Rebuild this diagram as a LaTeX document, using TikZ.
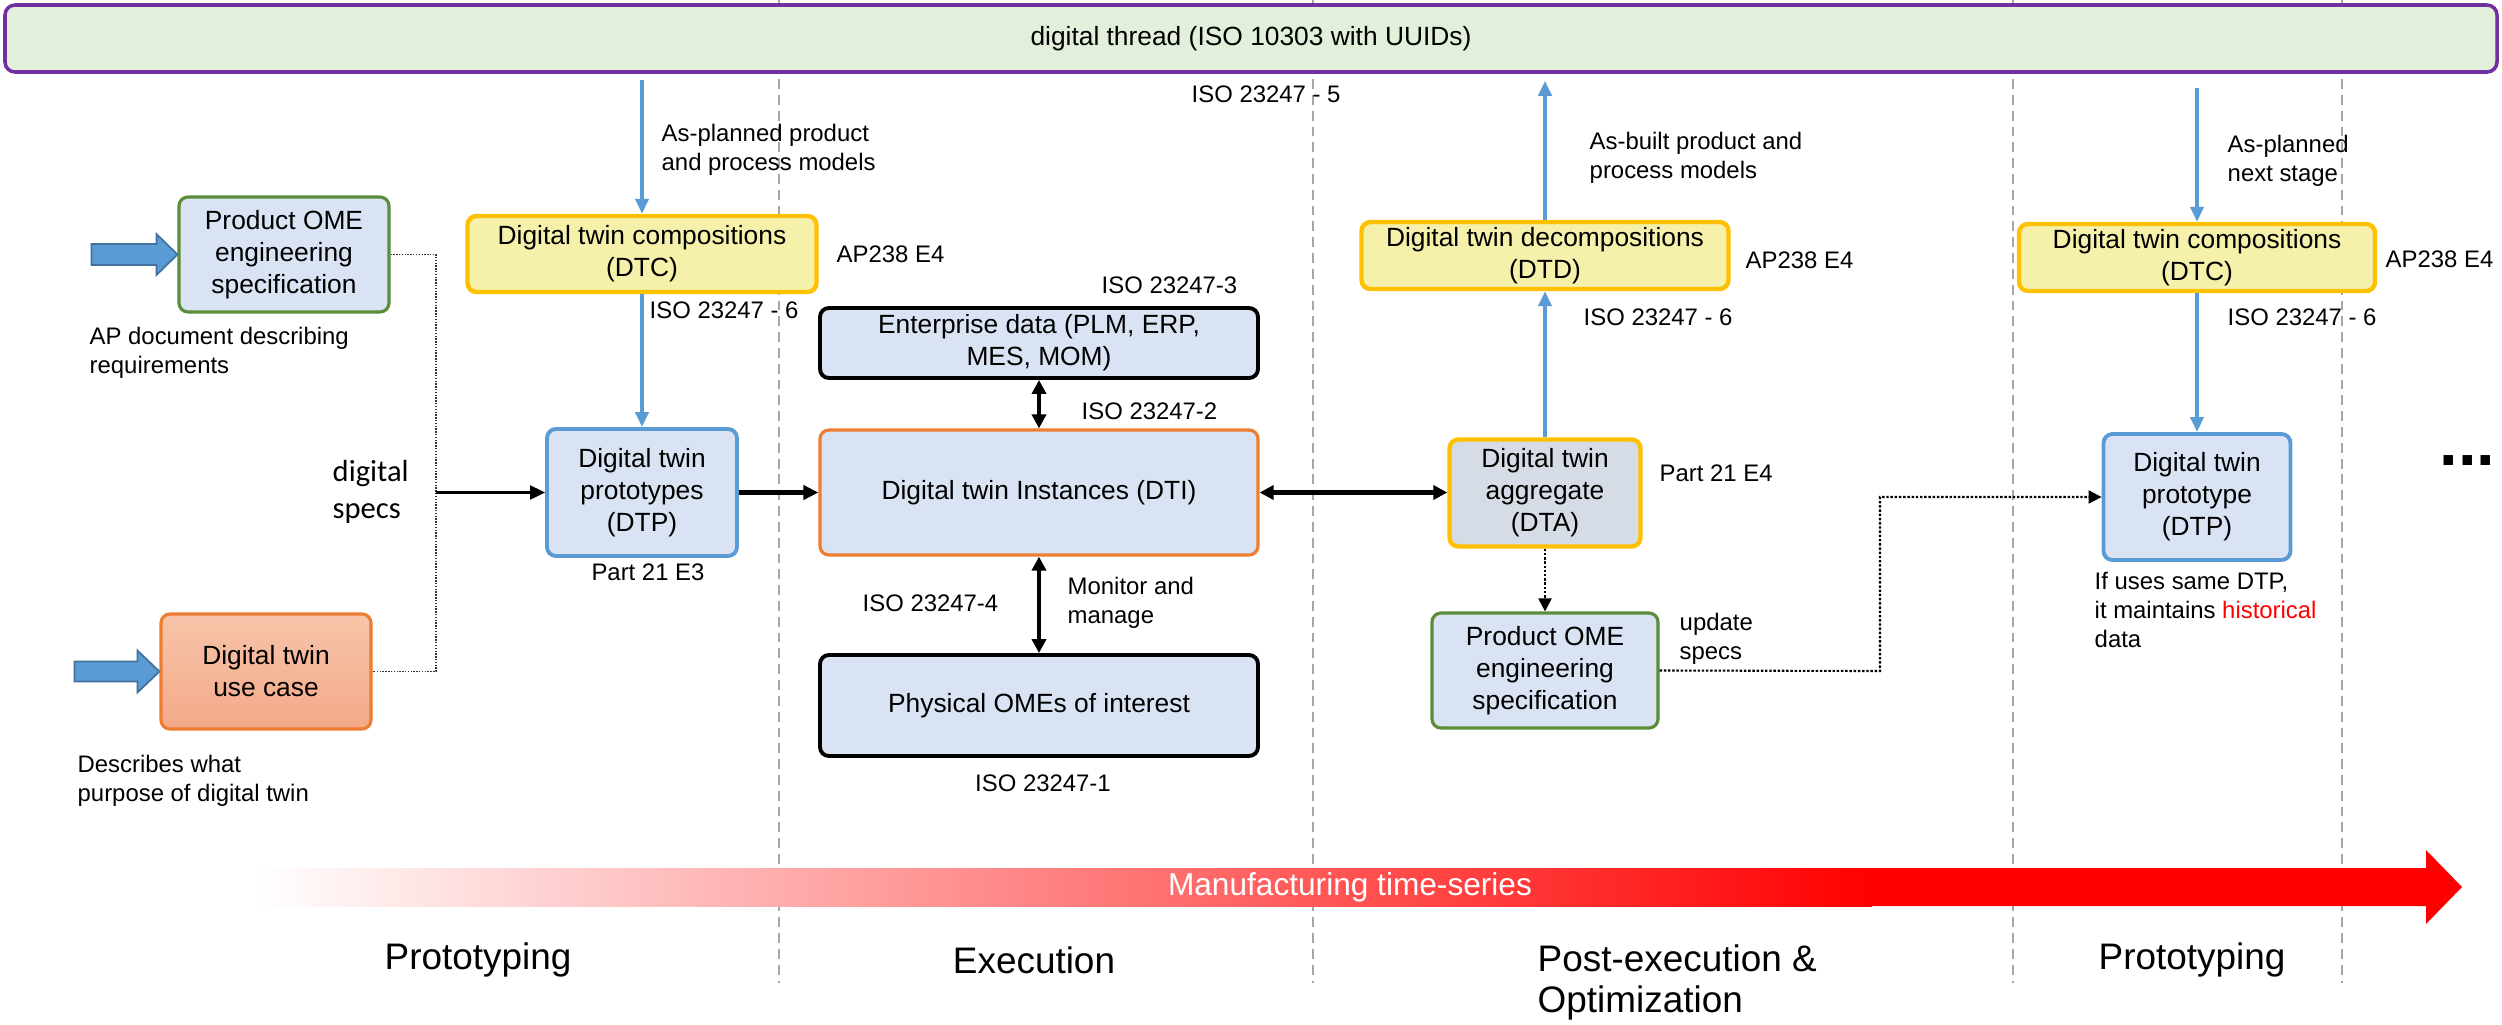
\documentclass[tikz,border=0pt]{standalone}
\usepackage{fontspec}
\setmainfont{Liberation Sans}
\newfontfamily\specfont{Carlito}
\usetikzlibrary{arrows.meta}
\usetikzlibrary{calc}
\definecolor{threadfill}{HTML}{E2EFDA}
\definecolor{threadline}{HTML}{7030A0}
\definecolor{boxblue}{HTML}{DAE3F3}
\definecolor{boxgray}{HTML}{D6DCE5}
\definecolor{boxyellow}{HTML}{F5F0AA}
\definecolor{lineblue}{HTML}{5B9BD5}
\definecolor{darkblue}{HTML}{41719C}
\definecolor{linegold}{HTML}{FFC000}
\definecolor{lineorange}{HTML}{ED7D31}
\definecolor{linegreen}{HTML}{5B8C3A}
\definecolor{salmontop}{HTML}{F7C4AA}
\definecolor{salmonbot}{HTML}{F4A988}
\definecolor{phasegray}{HTML}{A6A6A6}
\tikzset{
    twin/.style={draw, rounded corners=0.09cm, line width=0.9pt, align=center, inner sep=0pt, font=\fontsize{7.5}{9.1}\selectfont, fill=boxblue},
    twinblue/.style={twin, draw=lineblue, line width=1.1pt},
    twingreen/.style={twin, draw=linegreen},
    twinorange/.style={twin, draw=lineorange},
    twingold/.style={twin, draw=linegold, line width=1.25pt, fill=boxyellow},
    twinblack/.style={twin, draw=black, line width=1.1pt},
    note/.style={font=\fontsize{6.8}{8.2}\selectfont, align=left, inner sep=0pt, anchor=west},
    phase/.style={font=\fontsize{10.5}{11.7}\selectfont, align=left, inner sep=0pt},
    stage/.style={draw=phasegray, line width=0.55pt, dash pattern=on 2.8pt off 1.7pt},
    specline/.style={draw=black!80, line width=0.3pt, dash pattern=on 0.4pt off 0.4pt},
    bluearrow/.style={draw=lineblue, line width=1.1pt, -{Triangle[length=0.15cm,width=0.13cm]}},
    flow/.style={line width=1.4pt, -{Triangle[length=0.15cm,width=0.14cm]}},
    flowboth/.style={line width=1.4pt, {Triangle[length=0.14cm,width=0.14cm]}-{Triangle[length=0.14cm,width=0.14cm]}},
    feedback/.style={line width=0.6pt, dash pattern=on 0.7pt off 0.5pt, -{Triangle[length=0.13cm,width=0.13cm]}},
    blockarrow/.style={fill=lineblue, draw=darkblue, line width=0.5pt},
}

\begin{document}
\begin{tikzpicture}
\useasboundingbox (0,0) rectangle (25.02,-10.24);
% phase separators
\foreach \xs in {7.79,13.13,20.13,23.42}
    \draw[stage] (\xs,0) -- (\xs,-9.83);
\node[draw=threadline, fill=threadfill, line width=1pt, rounded corners=0.1cm, minimum width=24.92cm, minimum height=0.67cm, font=\fontsize{7.5}{9}\selectfont] (thread) at (12.51,-0.385) {digital thread (ISO 10303 with UUIDs)};

% prototyping
\node[twingreen, minimum width=2.10cm, minimum height=1.15cm] (spec) at (2.84,-2.545) {Product OME\\engineering\\specification};
\node[twinorange, top color=salmontop, bottom color=salmonbot, minimum width=2.10cm, minimum height=1.15cm] (usecase) at (2.66,-6.715) {Digital twin\\use case};
\draw[blockarrow] (spec.west) -- ++(-0.21,0.205) -- ++(0,-0.10) -- ++(-0.65,0) -- ++(0,-0.21) -- ++(0.65,0) -- ++(0,-0.10) -- cycle;
\draw[blockarrow] (usecase.west) -- ++(-0.22,0.21) -- ++(0,-0.11) -- ++(-0.63,0) -- ++(0,-0.20) -- ++(0.63,0) -- ++(0,-0.11) -- cycle;
\node[note] (apnote) at (0.89,-3.525) {AP document describing\\requirements};
\node[note] (usenote) at (0.77,-7.81) {Describes what\\purpose of digital twin};
\node[font=\specfont\fontsize{8.7}{10.5}\selectfont, align=left, anchor=west, inner sep=0pt] (specs) at (3.32,-4.915) {digital\\specs};

\node[twingold, minimum width=3.49cm, minimum height=0.76cm] (dtc) at (6.42,-2.54) {Digital twin compositions\\(DTC)};
\node[twinblue, minimum width=1.90cm, minimum height=1.27cm] (dtp) at (6.42,-4.925) {Digital twin\\prototypes\\(DTP)};
\node[note] (plannote) at (6.61,-1.495) {As-planned product\\and process models};
\node[note] (ap1) at (8.36,-2.54) {AP238 E4};
\node[note] (iso6a) at (6.49,-3.10) {ISO 23247 - 6};
\node[note, anchor=center] (part21a) at (6.48,-5.72) {Part 21 E3};

\coordinate (join) at (4.36,-4.925);
\draw[specline] (spec.east) -| (join) |- (usecase.east);
\draw[line width=0.6pt, -{Triangle[length=0.15cm,width=0.14cm]}] (join) -- (dtp.west);
\draw[bluearrow, shorten <=0.06cm] (thread.south -| dtc.north) -- (dtc.north);
\draw[bluearrow] (dtc.south) -- (dtp.north);

% execution
\node[twinblack, minimum width=4.38cm, minimum height=0.70cm] (erp) at (10.39,-3.43) {Enterprise data (PLM, ERP,\\MES, MOM)};
\node[twinorange, minimum width=4.38cm, minimum height=1.25cm] (dti) at (10.39,-4.925) {Digital twin Instances (DTI)};
\node[twinblack, minimum width=4.38cm, minimum height=1.01cm] (phys) at (10.39,-7.055) {Physical OMEs of interest};
\node[note] (iso5) at (11.91,-0.94) {ISO 23247 - 5};
\node[note] (iso3) at (11.01,-2.85) {ISO 23247-3};
\node[note] (iso2) at (10.81,-4.11) {ISO 23247-2};
\node[note] (iso4) at (8.62,-6.03) {ISO 23247-4};
\node[note] (monitor) at (10.67,-6.025) {Monitor and\\manage};
\node[note, anchor=center] (iso1) at (10.43,-7.83) {ISO 23247-1};
\draw[flow] (dtp.east) -- (dti.west);
\draw[flowboth] (erp.south) -- (dti.north);
\draw[flowboth] (dti.south) -- (phys.north);

% post-execution
\node[twingold, minimum width=3.67cm, minimum height=0.67cm] (dtd) at (15.45,-2.555) {Digital twin decompositions\\(DTD)};
\node[twin, draw=linegold, line width=1.25pt, fill=boxgray, minimum width=1.91cm, minimum height=1.07cm] (dta) at (15.45,-4.93) {Digital twin\\aggregate\\(DTA)};
\node[twingreen, minimum width=2.26cm, minimum height=1.15cm] (spec2) at (15.45,-6.705) {Product OME\\engineering\\specification};
\node[note] (builtnote) at (15.89,-1.58) {As-built product and\\process models};
\node[note] (ap2) at (17.45,-2.60) {AP238 E4};
\node[note] (iso6b) at (15.83,-3.17) {ISO 23247 - 6};
\node[note] (part21b) at (16.59,-4.73) {Part 21 E4};
\node[note] (update) at (16.79,-6.39) {update\\specs};
\draw[flowboth] (dti.east) -- (dti.east -| dta.west);
\draw[bluearrow] (dta.north) -- (dtd.south);
\draw[bluearrow, shorten >=0.07cm] (dtd.north) -- (thread.south -| dtd.north);
\draw[feedback] (dta.south) -- (spec2.north);

% next prototyping
\node[twingold, minimum width=3.56cm, minimum height=0.67cm] (dtc2) at (21.97,-2.575) {Digital twin compositions\\(DTC)};
\node[twinblue, minimum width=1.87cm, minimum height=1.26cm] (dtp2) at (21.97,-4.97) {Digital twin\\prototype\\(DTP)};
\node[note] (nextnote) at (22.27,-1.61) {As-planned\\next stage};
\node[note] (ap3) at (23.85,-2.59) {AP238 E4};
\node[note] (iso6c) at (22.27,-3.17) {ISO 23247 - 6};
\node[note] (history) at (20.94,-6.10) {If uses same DTP,\\it maintains {\color{red}historical}\\data};
\node[font=\fontsize{19}{19}\selectfont\bfseries, inner sep=0pt, anchor=base west] (more) at (24.39,-4.65) {...};
\coordinate (loop) at (18.80,-6.71);
\draw[feedback] (spec2.east) -- (loop) |- (dtp2.west);
\draw[bluearrow, shorten <=0.14cm] (thread.south -| dtc2.north) -- (dtc2.north);
\draw[bluearrow] (dtc2.south) -- (dtp2.north);

% time axis
\shade[left color=white, right color=red] (2.55,-8.68) rectangle (18.72,-9.06);
\fill[red] (18.71,-8.68) -- (24.26,-8.68) -- (24.26,-8.50) -- (24.62,-8.87) -- (24.26,-9.24) -- (24.26,-9.06) -- (18.71,-9.06) -- cycle;
\node[font=\fontsize{9}{10}\selectfont, text=white] (series) at (13.50,-8.87) {Manufacturing time-series};
\node[phase] (proto1) at (4.78,-9.60) {Prototyping};
\node[phase] (exec) at (10.34,-9.60) {Execution};
\node[phase, anchor=west] (post) at (15.37,-9.825) {Post-execution \&\\Optimization};
\node[phase] (proto2) at (21.92,-9.60) {Prototyping};
%\draw[red] (0,0) rectangle (25.02,-10.24);
\end{tikzpicture}
\end{document}
